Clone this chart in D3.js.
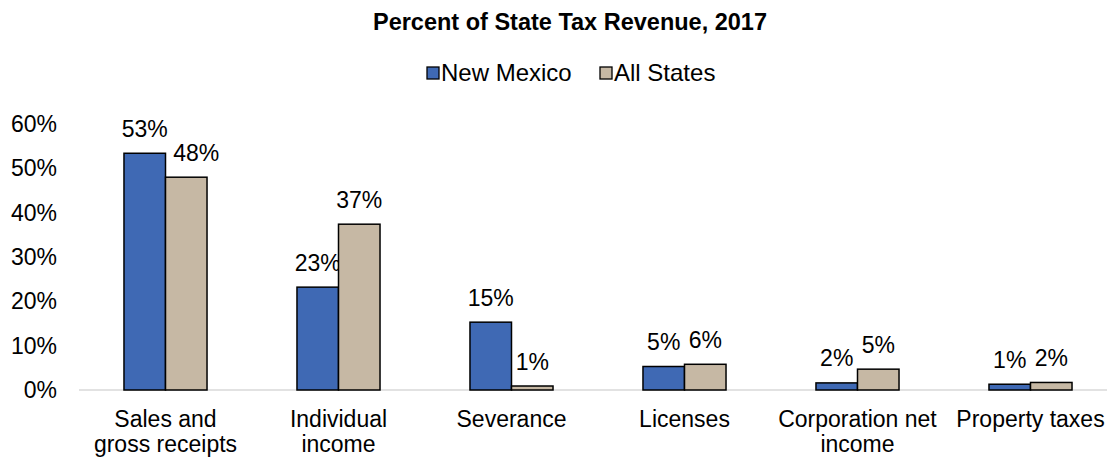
<!DOCTYPE html>
<html><head><meta charset="utf-8">
<script src="https://cdn.jsdelivr.net/npm/d3@7"></script>
<style>body{margin:0;background:#fff}svg{display:block;font-family:"Liberation Sans",Arial,sans-serif}</style>
</head><body><svg id="c" width="1107" height="458"></svg>
<script>
const categories = [["Sales and","gross receipts"],["Individual","income"],["Severance"],["Licenses"],["Corporation net","income"],["Property taxes"]];
const seriesNames = ["New Mexico","All States"];
const newMexico = [53.4, 23.2, 15.3, 5.3, 1.6, 1.3];
const allStates = [48.0, 37.4, 0.9, 5.8, 4.7, 1.7];
const yTicks = [0,10,20,30,40,50,60];
const colors = ["#3F69B4","#C6B8A4"];

const FS = 23;
const svg = d3.select("#c");
const x = d3.scaleBand().domain(d3.range(categories.length)).range([79,1117]).paddingInner(0.52).paddingOuter(0.26);
const x1 = d3.scaleBand().domain([0,1]).range([0,x.bandwidth()]);
const y = d3.scaleLinear().domain([0,60]).range([390,124]);

svg.append("text").attr("x",570).attr("y",30).attr("text-anchor","middle")
  .attr("font-weight","bold").attr("font-size",23.5).text("Percent of State Tax Revenue, 2017");

// legend
const legX = [427,600];
seriesNames.forEach((n,i)=>{
  svg.append("rect").attr("x",legX[i]).attr("y",67).attr("width",12).attr("height",12)
    .attr("fill",colors[i]).attr("stroke","#000").attr("stroke-width",1.3);
  svg.append("text").attr("x",legX[i]+14).attr("y",81).attr("font-size",24).text(n);
});

// y axis labels
svg.append("g").selectAll("text").data(yTicks).join("text")
  .attr("x",57).attr("y",d=>y(d)+8).attr("text-anchor","end").attr("font-size",FS)
  .text(d=>d+"%");

// baseline
svg.append("line").attr("x1",79).attr("x2",1117).attr("y1",y(0)).attr("y2",y(0))
  .attr("stroke","#d9d9d9").attr("stroke-width",1.5);

const data = [newMexico, allStates];
data.forEach((vals,s)=>{
  const g = svg.append("g");
  g.selectAll("rect").data(vals).join("rect")
    .attr("x",(d,i)=>x(i)+x1(s)).attr("width",x1.bandwidth())
    .attr("y",d=>y(d)).attr("height",d=>y(0)-y(d))
    .attr("fill",colors[s]).attr("stroke","#000").attr("stroke-width",1.5);
  g.selectAll("text").data(vals).join("text")
    .attr("x",(d,i)=>x(i)+x1(s)+x1.bandwidth()/2 + ((s===1&&i===0)?10:0))
    .attr("y",d=>y(d)-16.5)
    .attr("text-anchor","middle").attr("font-size",FS)
    .text(d=>Math.round(d)+"%");
});

// x labels
const xl = svg.append("g");
categories.forEach((lines,i)=>{
  lines.forEach((t,j)=>{
    xl.append("text").attr("x",x(i)+x.bandwidth()/2).attr("y",427+j*25)
      .attr("text-anchor","middle").attr("font-size",FS).text(t);
  });
});
</script></body></html>
